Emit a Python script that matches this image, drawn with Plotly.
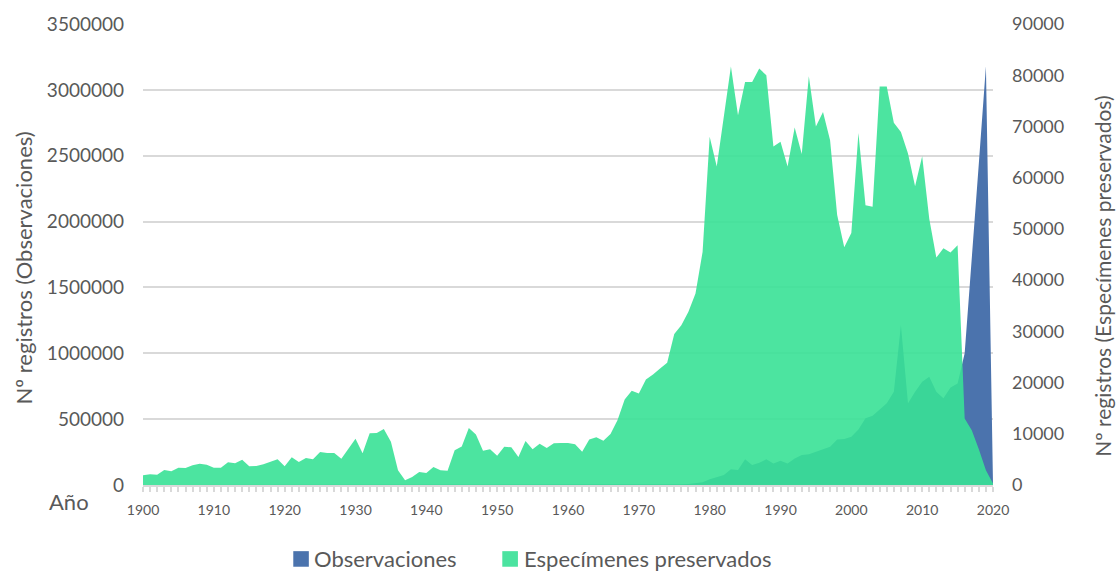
import plotly.graph_objects as go

# Años del eje horizontal
anios = list(range(1900, 2021))

# Nº de registros de observaciones por año (eje izquierdo)
observaciones = [
    0, 0, 0, 0, 0, 0, 0, 0, 0, 0,                      # 1900-1909
    0, 0, 0, 0, 0, 0, 0, 0, 0, 0,                      # 1910-1919
    0, 0, 0, 0, 0, 0, 0, 0, 0, 0,                      # 1920-1929
    0, 0, 0, 0, 0, 0, 0, 0, 0, 0,                      # 1930-1939
    0, 0, 0, 0, 0, 0, 0, 0, 0, 0,                      # 1940-1949
    0, 0, 0, 0, 0, 0, 0, 0, 0, 0,                      # 1950-1959
    0, 0, 0, 0, 0, 0, 0, 0, 0, 0,                      # 1960-1969
    0, 0, 0, 0, 0, 1000, 5000, 7600, 12600, 20000,     # 1970-1979
    43000, 58000, 76000, 119000, 114000, 195000, 152000, 169000, 195000, 164000,   # 1980-1989
    185000, 164000, 202000, 228000, 233000, 253000, 273000, 291000, 346000, 349000,  # 1990-1999
    367000, 422000, 506000, 526000, 574000, 620000, 708000, 1214000, 620000, 708000,  # 2000-2009
    784000, 822000, 708000, 658000, 741000, 771000, 1000000, 1700000, 2440000, 3180000,  # 2010-2019
    10000,                                              # 2020
]

# Nº de registros de especímenes preservados por año (eje derecho)
especimenes = [
    1900, 2080, 2020, 2930, 2670, 3380, 3320, 3840, 4160, 3970,      # 1900-1909
    3380, 3380, 4420, 4230, 4940, 3640, 3710, 4030, 4550, 5010,      # 1910-1919
    3640, 5400, 4490, 5270, 5010, 6440, 6240, 6240, 5140, 7090,      # 1920-1929
    9040, 6180, 10080, 10140, 10920, 8450, 2860, 910, 1560, 2540,    # 1930-1939
    2340, 3510, 2860, 2800, 6760, 7540, 11120, 9880, 6700, 6960,     # 1940-1949
    5720, 7480, 7350, 5460, 8580, 6960, 8060, 7220, 8130, 8190,      # 1950-1959
    8190, 7950, 6500, 8900, 9300, 8650, 9950, 12680, 16710, 18400,   # 1960-1969
    17880, 20610, 21590, 22760, 23870, 29460, 31210, 33820, 37390, 45500,  # 1970-1979
    68000, 62200, 71900, 81700, 72200, 78700, 78700, 81300, 80000, 66100,  # 1980-1989
    67000, 62200, 69800, 64600, 79800, 70000, 72800, 67300, 52700, 46400,  # 1990-1999
    49200, 68700, 54600, 54300, 77800, 77800, 70700, 68900, 64700, 58300,  # 2000-2009
    64200, 52000, 44400, 46200, 45400, 46800, 13000, 10700, 7000, 2900,    # 2010-2019
    300,                                                                    # 2020
]

# Marcas de los ejes
ticks_x = list(range(1900, 2021, 10))
ticks_izq = list(range(0, 3500001, 500000))
ticks_der = list(range(0, 90001, 10000))

nombres = ["Observaciones", "Especímenes preservados"]
color_obs = "#4B73AD"
color_esp = "rgba(56,225,150,0.9)"
color_esp_leyenda = "#4BE3A0"
gris_texto = "#595959"
gris_linea = "#D9D9D9"
fuente = "Lato"

fig = go.Figure()

fig.add_trace(go.Scatter(
    x=anios, y=observaciones, name=nombres[0],
    mode="lines", line=dict(width=0, color=color_obs),
    fill="tozeroy", fillcolor=color_obs,
    yaxis="y", showlegend=False,
))

fig.add_trace(go.Scatter(
    x=anios, y=especimenes, name=nombres[1],
    mode="lines", line=dict(width=0, color=color_esp),
    fill="tozeroy", fillcolor=color_esp,
    yaxis="y2", showlegend=False,
))

fig.update_layout(
    width=1118, height=585,
    margin=dict(l=143, r=125, t=24, b=100),
    paper_bgcolor="white", plot_bgcolor="white",
    font=dict(family=fuente, color=gris_texto),
    xaxis=dict(
        range=[anios[0], anios[-1]],
        tickvals=ticks_x,
        ticks="outside", ticklen=5, tickwidth=1.5, tickcolor=gris_linea,
        minor=dict(dtick=1, ticks="outside", ticklen=5, tickwidth=1.5,
                   tickcolor=gris_linea, showgrid=False),
        showline=True, linecolor=gris_linea, linewidth=2,
        showgrid=False, zeroline=False,
        tickfont=dict(size=14, color=gris_texto),
        ticklabelstandoff=6,
    ),
    yaxis=dict(
        range=[0, ticks_izq[-1]],
        tickvals=ticks_izq, tickformat="d",
        showgrid=True, gridcolor=gris_linea, gridwidth=1.5,
        zeroline=False, showline=False, ticks="",
        tickfont=dict(size=19, color=gris_texto),
        ticklabelstandoff=18,
    ),
    yaxis2=dict(
        range=[0, ticks_der[-1]],
        tickvals=ticks_der, tickformat="d",
        overlaying="y", side="right",
        showgrid=False, zeroline=False, showline=False, ticks="",
        tickfont=dict(size=18, color=gris_texto),
        ticklabelstandoff=18,
    ),
)

# Títulos de los ejes
fig.add_annotation(
    text="Nº registros (Observaciones)", textangle=-90,
    xref="paper", yref="paper", x=-0.141, y=0.47,
    xanchor="center", yanchor="middle",
    showarrow=False, font=dict(size=22, color=gris_texto),
)
fig.add_annotation(
    text="Nº registros (Especímenes preservados)", textangle=-90,
    xref="paper", yref="paper", x=1.129, y=0.453,
    xanchor="center", yanchor="middle",
    showarrow=False, font=dict(size=21, color=gris_texto),
)
fig.add_annotation(
    text="Año",
    xref="paper", yref="paper", x=-0.087, y=-0.035,
    xanchor="center", yanchor="middle",
    showarrow=False, font=dict(size=22, color=gris_texto),
)

# Leyenda inferior
leyenda = [
    (0.1768, 0.1951, 0.1992, color_obs, nombres[0]),
    (0.4227, 0.4411, 0.4462, color_esp_leyenda, nombres[1]),
]
for x0, x1, xt, col, txt in leyenda:
    fig.add_shape(
        type="rect", xref="paper", yref="paper",
        x0=x0, x1=x1, y0=-0.1773, y1=-0.1435,
        fillcolor=col, line=dict(width=0),
    )
    fig.add_annotation(
        text=txt, xref="paper", yref="paper",
        x=xt, y=-0.1604, xanchor="left", yanchor="middle",
        showarrow=False, font=dict(size=22, color=gris_texto),
    )

fig.write_html("out.html")
